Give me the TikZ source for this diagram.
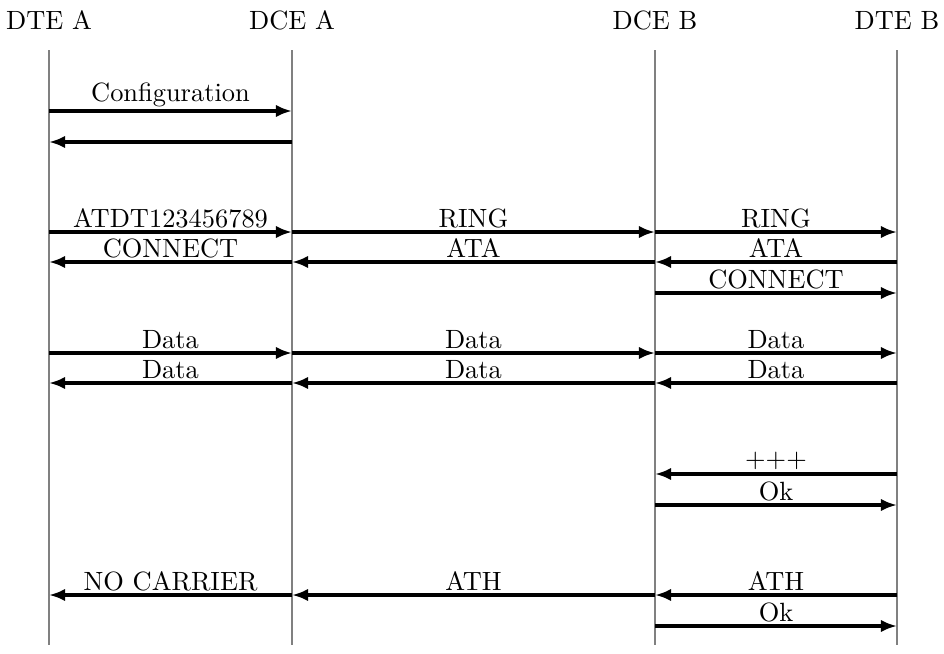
\documentclass[tikz,border=0pt]{standalone}
\usepackage{amsmath,amssymb}
\usepackage{tikz}
\usetikzlibrary{arrows.meta}

\begin{document}
\begin{tikzpicture}[x=0.01424cm,y=-0.01424cm,
  every node/.style={font=\fontsize{10.7}{13}\selectfont},
  msg/.style={line width=1.3pt,-{Latex[length=6.5pt,width=5pt]}},
  lbl/.style={midway,above,inner sep=1pt},
  life/.style={gray,line width=0.5pt}]
\useasboundingbox (0,0) rectangle (944,654);
% headers and lifelines
\foreach \n/\x/\t in {da/49/DTE A,ca/292/DCE A,cb/655/DCE B,db/897/DTE B}{
  \node (\n) at (\x,20) {\t};
  \coordinate (\n0) at (\x,50); \coordinate (\n1) at (\x,645);
  \draw[life] (\n0) -- (\n1);
}
% message rows
\foreach \r/\y in {1/111,2/142,3/232,4/262,5/293,6/353,7/383,8/474,9/505,10/595,11/626}{
  \coordinate (da-\r) at (49,\y); \coordinate (ca-\r) at (292,\y);
  \coordinate (cb-\r) at (655,\y); \coordinate (db-\r) at (897,\y);
}
\draw[msg] (da-1) -- (ca-1) node[lbl]{Configuration};
\draw[msg] (ca-2) -- (da-2);
\draw[msg] (da-3) -- (ca-3) node[lbl]{ATDT123456789};
\draw[msg] (ca-3) -- (cb-3) node[lbl]{RING};
\draw[msg] (cb-3) -- (db-3) node[lbl]{RING};
\draw[msg] (ca-4) -- (da-4) node[lbl]{CONNECT};
\draw[msg] (cb-4) -- (ca-4) node[lbl]{ATA};
\draw[msg] (db-4) -- (cb-4) node[lbl]{ATA};
\draw[msg] (cb-5) -- (db-5) node[lbl]{CONNECT};
\draw[msg] (da-6) -- (ca-6) node[lbl]{Data};
\draw[msg] (ca-6) -- (cb-6) node[lbl]{Data};
\draw[msg] (cb-6) -- (db-6) node[lbl]{Data};
\draw[msg] (ca-7) -- (da-7) node[lbl]{Data};
\draw[msg] (cb-7) -- (ca-7) node[lbl]{Data};
\draw[msg] (db-7) -- (cb-7) node[lbl]{Data};
\draw[msg] (db-8) -- (cb-8) node[lbl]{+++};
\draw[msg] (cb-9) -- (db-9) node[lbl]{Ok};
\draw[msg] (ca-10) -- (da-10) node[lbl]{NO CARRIER};
\draw[msg] (cb-10) -- (ca-10) node[lbl]{ATH};
\draw[msg] (db-10) -- (cb-10) node[lbl]{ATH};
\draw[msg] (cb-11) -- (db-11) node[lbl]{Ok};
\end{tikzpicture}
\end{document}
